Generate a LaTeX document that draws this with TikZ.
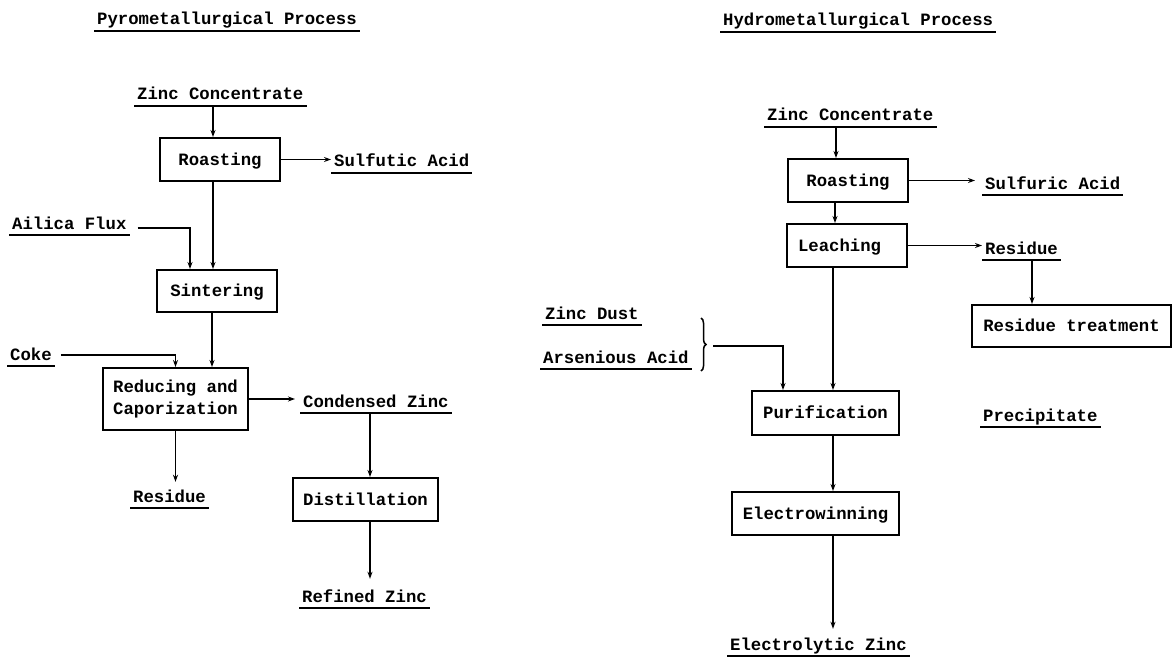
\documentclass[tikz,border=0pt]{standalone}
\usepackage{fontspec}
\setmainfont{Liberation Mono}
\usetikzlibrary{arrows.meta,decorations.pathreplacing}
\begin{document}
\begin{tikzpicture}[x=1pt,y=-1pt,
  tw/.style={font=\fontsize{17.3}{22}\selectfont\bfseries},
  ul/.style={draw,line width=1.5pt},
  lbl/.style={tw,anchor=base west,inner xsep=3pt,inner ysep=0pt,
    text height=11pt,text depth=6pt,
    append after command={(\tikzlastnode.south west) edge[ul] (\tikzlastnode.south east)}},
  boxbase/.style={tw,draw,line width=2pt,inner sep=0pt},
  box/.style={boxbase,text height=11pt,text depth=0pt},
  arr/.style={line width=1.7pt,-{Stealth[length=7pt,width=5pt]}},
  brc/.style={line width=1.5pt,decorate,decoration={brace,amplitude=5pt}}]
\useasboundingbox (0,0) rectangle (1175,658);

% ---------------- Pyrometallurgical process ----------------
\node[lbl] (pyro) at (94,25) {Pyrometallurgical Process};
\node[lbl] (zcl)  at (134,100) {Zinc Concentrate};
\node[lbl] (sfa)  at (331,167) {Sulfutic Acid};
\node[lbl] (af)   at (9,229) {Ailica Flux};
\node[lbl] (coke) at (7,360) {Coke};
\node[lbl] (cz)   at (300,407) {Condensed Zinc};
\node[lbl] (resl) at (130,502) {Residue};
\node[lbl] (rz)   at (299,602) {Refined Zinc};

\node[box,minimum width=120pt,minimum height=43pt] (rol) at (220,159.5) {Roasting};
\node[box,minimum width=120pt,minimum height=42pt] (sin) at (217,291) {Sintering};
\node[boxbase,align=center,minimum width=145pt,minimum height=62pt] (red) at (175.5,399) {Reducing and\\Caporization};
\node[box,minimum width=145pt,minimum height=43pt] (dis) at (365.5,499.5) {Distillation};

\coordinate (p1) at ([xshift=-7pt]rol.north);
\draw[arr] (p1 |- zcl.south) -- (p1);
\draw[arr] (rol.east) -- (sfa.west |- rol.east);
\coordinate (p2) at ([xshift=-4pt]sin.north);
\draw[arr] (p2 |- rol.south) -- (p2);
\draw[arr] ([shift={(8pt,1pt)}]af.base east) -| ([xshift=-27pt]sin.north);
\coordinate (p3) at ([xshift=-5pt]sin.south);
\draw[arr] (p3) -- (p3 |- red.north);
\draw[arr] ([shift={(6pt,5pt)}]coke.base east) -| (red.north);
\draw[arr,shorten >=5pt] (red.east) -- (cz.west |- red.east);
\draw[arr,shorten >=9pt] (red.south) -- (red.south |- resl.north);
\coordinate (p5) at ([xshift=4.5pt]dis.north);
\draw[arr] (p5 |- cz.south) -- (p5);
\coordinate (p6) at ([xshift=4.5pt]dis.south);
\draw[arr,shorten >=12pt] (p6) -- (p6 |- rz.north);

% ---------------- Hydrometallurgical process ----------------
\node[lbl] (hydro) at (720,26) {Hydrometallurgical Process};
\node[lbl] (zcr)   at (764,121) {Zinc Concentrate};
\node[lbl] (sua)   at (982,189) {Sulfuric Acid};
\node[lbl] (resr)  at (982,254) {Residue};
\node[lbl] (zd)    at (542,319) {Zinc Dust};
\node[lbl] (aa)    at (540,363) {Arsenious Acid};
\node[lbl] (prec)  at (980,421) {Precipitate};
\node[lbl] (ez)    at (727,650) {Electrolytic Zinc};

\node[box,minimum width=120pt,minimum height=43pt] (ror) at (848,180.5) {Roasting};
\node[box,minimum width=120pt,minimum height=43pt,text width=98pt,align=left,inner xsep=11pt] (lea) at (847,245.5) {Leaching};
\node[box,minimum width=199pt,minimum height=42pt] (rt) at (1071.5,326) {Residue treatment};
\node[box,minimum width=147pt,minimum height=44pt] (pur) at (825.5,413) {Purification};
\node[box,minimum width=167pt,minimum height=43pt] (ele) at (815.5,513.5) {Electrowinning};

\coordinate (q1) at ([xshift=-12pt]ror.north);
\draw[arr] (q1 |- zcr.south) -- (q1);
\draw[arr,shorten >=7pt] (ror.east) -- (sua.west |- ror.east);
\coordinate (q2) at ([xshift=-12pt]lea.north);
\draw[arr] (q2 |- ror.south) -- (q2);
\draw[arr] (lea.east) -- (resr.west |- lea.east);
\coordinate (q3) at ([xshift=-39.5pt]rt.north);
\draw[arr] (q3 |- resr.south) -- (q3);
\coordinate (q4) at ([xshift=7.5pt]pur.north);
\draw[arr] (q4 |- lea.south) -- (q4);

% brace grouping the two reagents
\coordinate (bt) at (701,318);
\coordinate (bb) at (701,371);
\draw[brc] (bt) -- (bb);
\coordinate (bm) at (713,346);
\draw[arr] (bm) -| ([xshift=-42.5pt]pur.north);

\coordinate (q5) at ([xshift=17.5pt]ele.north);
\draw[arr] (q5 |- pur.south) -- (q5);
\draw[arr,shorten >=10pt] (q5 |- ele.south) -- (q5 |- ez.north);
\end{tikzpicture}
\end{document}
